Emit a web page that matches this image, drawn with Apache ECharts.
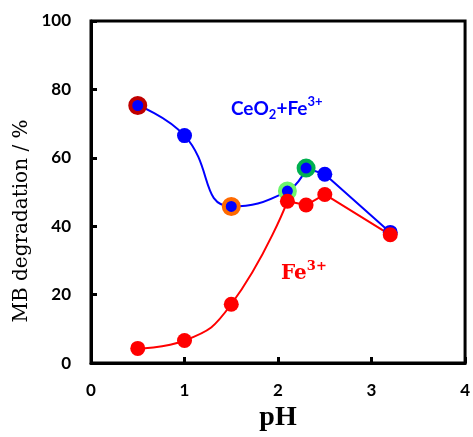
<!DOCTYPE html>
<html><head><meta charset="utf-8">
<script src="https://cdn.jsdelivr.net/npm/echarts@6/dist/echarts.min.js"></script>
<style>html,body{margin:0;padding:0;background:#fff;overflow:hidden}#c{width:473px;height:437px}</style>
</head><body><div id="c"></div>
<script>
const pH = [0.5, 1.0, 1.5, 2.1, 2.3, 2.5, 3.2];
const ceo2Fe = [75.3, 66.5, 45.8, 50.3, 57.0, 55.2, 38.2];
const fe = [4.3, 6.6, 17.2, 47.3, 46.2, 49.3, 37.5];
const xTicks = [0, 1, 2, 3, 4];
const yTicks = [0, 20, 40, 60, 80, 100];
const smoothEndIdx = 4;      // blue curve smooth up to pH 2.3
const redSmoothEndIdx = 3;   // red curve smooth up to pH 2.1

const ringColors = {0: '#c00000', 2: '#ff6a00', 3: '#6cf56c', 4: '#00b050'};
const BLUE = '#0000ff', RED = '#ff0000';

const pts = (ys) => pH.map((x, i) => [x, ys[i]]);
const blueAll = pts(ceo2Fe), redAll = pts(fe);

const chart = echarts.init(document.getElementById('c'));
const axisFont = {fontFamily: 'Lato', fontWeight: 'bold', fontSize: 17, color: '#000'};
chart.setOption({
  animation: false,
  grid: {left: 91, right: 7, top: 21, bottom: 71, show: true, borderColor: '#000', borderWidth: 3},
  xAxis: {
    type: 'value', min: xTicks[0], max: xTicks[xTicks.length - 1], interval: 1,
    axisLine: {onZero: false, lineStyle: {color: '#000', width: 3}},
    axisTick: {inside: true, length: 6, lineStyle: {color: '#000', width: 3}},
    axisLabel: Object.assign({margin: 19}, axisFont),
    splitLine: {show: false},
    name: 'pH', nameLocation: 'middle', nameGap: 38,
    nameTextStyle: {fontFamily: 'Liberation Serif', fontWeight: 'bold', fontSize: 28, color: '#000'}
  },
  yAxis: {
    type: 'value', min: yTicks[0], max: yTicks[yTicks.length - 1], interval: 20,
    axisLine: {lineStyle: {color: '#000', width: 3}},
    axisTick: {inside: true, length: 6, lineStyle: {color: '#000', width: 3}},
    axisLabel: Object.assign({margin: 20}, axisFont),
    splitLine: {show: false}
  },
  series: [
    {type: 'line', data: blueAll.slice(0, smoothEndIdx + 1), smooth: 0.5, showSymbol: false,
     lineStyle: {color: BLUE, width: 2}, z: 2},
    {type: 'line', data: blueAll.slice(smoothEndIdx), smooth: false, showSymbol: false,
     lineStyle: {color: BLUE, width: 2}, z: 2},
    {type: 'line', data: redAll.slice(0, redSmoothEndIdx + 1), smooth: 0.5, showSymbol: false,
     lineStyle: {color: RED, width: 2}, z: 3},
    {type: 'line', data: redAll.slice(redSmoothEndIdx), smooth: false, showSymbol: false,
     lineStyle: {color: RED, width: 2}, z: 3},
    {type: 'scatter', z: 4, symbol: 'circle',
     data: blueAll.map((p, i) => ringColors[i] ?
       {value: p, symbolSize: 15, itemStyle: {color: BLUE, opacity: 1, borderColor: ringColors[i], borderWidth: 4}} :
       {value: p, symbolSize: 15, itemStyle: {color: BLUE, opacity: 1}})},
    {type: 'scatter', z: 5, symbol: 'circle', symbolSize: 15, itemStyle: {color: RED, opacity: 1}, data: redAll}
  ],
  graphic: [
    {type: 'text', x: 22, y: 221, rotation: Math.PI / 2, z: 10, style: {
      text: 'MB degradation / %', fontFamily: 'DejaVu Serif', fontSize: 20, fill: '#000',
      align: 'center', verticalAlign: 'middle'}},
    {type: 'text', left: 231, top: 95, z: 10, style: {
      text: '{a|CeO}{sub|2}{a|+Fe}{sup|3+}',
      rich: {
        a: {fontFamily: 'Lato', fontWeight: 'bold', fontSize: 19, fill: BLUE, lineHeight: 23, verticalAlign: 'bottom'},
        sub: {fontFamily: 'Lato', fontWeight: 'bold', fontSize: 13, fill: BLUE, lineHeight: 23, verticalAlign: 'bottom', padding: [0,0,-3,0]},
        sup: {fontFamily: 'Lato', fontWeight: 'bold', fontSize: 13, fill: BLUE, lineHeight: 23, verticalAlign: 'top'}
      }}},
    {type: 'text', left: 281, top: 260, z: 10, style: {
      text: '{a|Fe}{sup|3+}',
      rich: {
        a: {fontFamily: 'DejaVu Serif', fontWeight: 'bold', fontSize: 20, fill: RED, lineHeight: 24, verticalAlign: 'bottom'},
        sup: {fontFamily: 'DejaVu Serif', fontWeight: 'bold', fontSize: 13, fill: RED, lineHeight: 24, verticalAlign: 'top'}
      }}}
  ]
});
</script></body></html>
